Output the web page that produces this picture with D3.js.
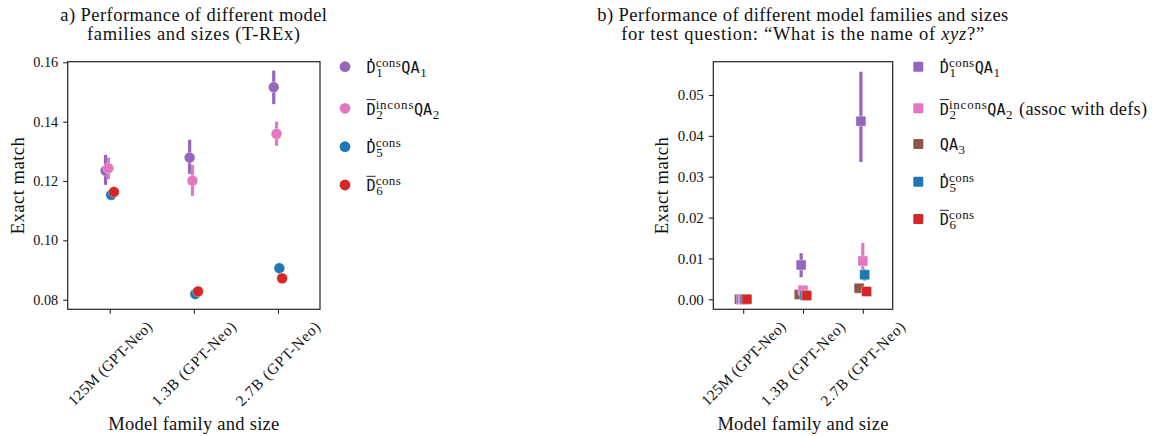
<!DOCTYPE html>
<html><head><meta charset="utf-8">
<script src="https://cdn.jsdelivr.net/npm/d3@7"></script>
<style>body{margin:0;background:#fff}svg{display:block}
.serif{font-family:"Liberation Serif","Times New Roman",serif}
.mono{font-family:"DejaVu Sans Mono",monospace}
</style>
</head><body>
<script>
// ---------------- DATA ----------------
const categories = ["125M (GPT-Neo)", "1.3B (GPT-Neo)", "2.7B (GPT-Neo)"];

// Panel a (T-REx)
const aTicks = [0.08, 0.10, 0.12, 0.14, 0.16];
const aD1 = [0.1235, 0.1279, 0.1516], aD1Lo = [0.1187, 0.1224, 0.1459], aD1Hi = [0.1288, 0.1339, 0.1572];
const aD2 = [0.1243, 0.1201, 0.1359], aD2Lo = [0.1206, 0.1150, 0.1319], aD2Hi = [0.1279, 0.1254, 0.1400];
const aD5 = [0.1153, 0.0819, 0.0906], aD5Lo = [0.1149, 0.0816, 0.0900], aD5Hi = [0.1157, 0.0822, 0.0913];
const aD6 = [0.1163, 0.0828, 0.0872], aD6Lo = [0.1160, 0.0825, 0.0868], aD6Hi = [0.1166, 0.0831, 0.0876];

// Panel b (test question "What is the name of xyz?")
const bTicks = [0.00, 0.01, 0.02, 0.03, 0.04, 0.05];
const bD1 = [0, 0.0084, 0.0436], bD1Lo = [0, 0.0054, 0.0336], bD1Hi = [0, 0.0113, 0.0557];
const bD2 = [0, 0.0022, 0.0094], bD2Lo = [0, 0.0015, 0.0052], bD2Hi = [0, 0.0030, 0.0138];
const bQA3 = [0, 0.0012, 0.0027], bQA3Lo = [0, 0.0008, 0.0022], bQA3Hi = [0, 0.0016, 0.0032];
const bD5 = [0, 0.0010, 0.0060], bD5Lo = [0, 0.0006, 0.0046], bD5Hi = [0, 0.0014, 0.0073];
const bD6 = [0, 0.0009, 0.0019], bD6Lo = [0, 0.0006, 0.0014], bD6Hi = [0, 0.0012, 0.0024];

// legend label pieces
const labD1 = [{mono:"D", accent:"dot"}, {sup:"cons", sub:"1"}, {mono:"QA"}, {sub:"1"}];
const labD2 = [{mono:"D", accent:"bar"}, {sup:"incons", sub:"2"}, {mono:"QA"}, {sub:"2"}];
const labD2b = [{mono:"D", accent:"bar"}, {sup:"incons", sub:"2"}, {mono:"QA"}, {sub:"2"}, {serif:"(assoc with defs)"}];
const labQA3 = [{mono:"QA"}, {sub:"3"}];
const labD5 = [{mono:"D", accent:"dot"}, {sup:"cons", sub:"5"}];
const labD6 = [{mono:"D", accent:"bar"}, {sup:"cons", sub:"6"}];

const C = {purple:"#9467bd", pink:"#e377c2", brown:"#8c564b", blue:"#1f77b4", red:"#d62728"};

// ---------------- RENDER ----------------
const INK = "#111";
const svg = d3.select("body").append("svg").attr("width", 1154).attr("height", 436);

const meas = svg.append("text").attr("x", -1000).attr("y", -1000);
function measure(str, cls, size) {
  meas.attr("class", cls).attr("font-size", size).attr("letter-spacing", 0).text(str);
  return meas.node().getComputedTextLength();
}
// fit text to a target width: grow font a little (max 6%), then open letter-spacing
function fit(sel, target, size) {
  const n = sel.node();
  sel.attr("font-size", size).attr("letter-spacing", 0);
  const w = n.getComputedTextLength();
  const k = n.textContent.length;
  const fs = size * Math.min(1.06, target / w);
  sel.attr("font-size", fs);
  const w2 = n.getComputedTextLength();
  if (k > 1 && w2 < target) sel.attr("letter-spacing", (target - w2) / (k - 1));
}

function drawPanel(cfg) {
  const g = svg.append("g");
  const x = d3.scalePoint().domain(categories).range([cfg.left, cfg.right]).padding(0.5);
  const step = x.step();
  const y = d3.scaleLinear().domain(cfg.yDomain).range([cfg.bottom, cfg.top]);

  const yAx = g.append("g").attr("transform", `translate(${cfg.left},0)`)
    .call(d3.axisLeft(y).tickValues(cfg.yTicks).tickFormat(d3.format(".2f")).tickSize(4.5).tickPadding(5));
  const xAx = g.append("g").attr("transform", `translate(0,${cfg.bottom})`)
    .call(d3.axisBottom(x).tickSize(4.5).tickFormat(""));
  [yAx, xAx].forEach(a => { a.attr("font-family", null).attr("font-size", null); a.select(".domain").remove(); a.selectAll("line").attr("stroke", "#222").attr("stroke-width", 1.1); });
  yAx.selectAll("text").attr("class", "serif").attr("fill", INK)
    .each(function(){ fit(d3.select(this), cfg.yTickW, 14.5); });

  categories.forEach(c => {
    const t = g.append("text").text(c).attr("class", "serif").attr("fill", INK)
      .attr("text-anchor", "middle").attr("dominant-baseline", "central");
    fit(t, 112, 14.5);
    const L = 112, h = 15;
    const cy = cfg.bottom + 9 + (L + h) * Math.SQRT1_2 / 2;
    t.attr("transform", `translate(${x(c)},${cy}) rotate(-45)`);
  });

  g.append("rect").attr("x", cfg.left).attr("y", cfg.top).attr("width", cfg.right - cfg.left)
    .attr("height", cfg.bottom - cfg.top).attr("fill", "none").attr("stroke", "#222").attr("stroke-width", 1.2);

  const n = cfg.nDodge, dodge = 0.025 * n;
  cfg.series.forEach(s => {
    const off = (n > 1 ? (s.dodge * dodge / (n - 1)) : 0) - dodge / 2;
    const sg = g.append("g");
    categories.forEach((c, i) => {
      const cx = x(c) + off * step;
      if (s.hi[i] > s.lo[i]) {
        sg.append("line").attr("x1", cx).attr("x2", cx).attr("y1", y(s.lo[i])).attr("y2", y(s.hi[i]))
          .attr("stroke", s.color).attr("stroke-width", 3.2);
      }
      if (cfg.shape === "circle") {
        sg.append("circle").attr("cx", cx).attr("cy", y(s.v[i])).attr("r", 5.4)
          .attr("fill", s.color).attr("stroke", "#fff").attr("stroke-width", 0.5).attr("stroke-opacity", 0.7);
      } else {
        sg.append("rect").attr("x", cx - 5).attr("y", y(s.v[i]) - 5).attr("width", 10).attr("height", 10)
          .attr("rx", 1.2).attr("fill", s.color).attr("stroke", "#fff").attr("stroke-width", 0.5).attr("stroke-opacity", 0.7);
      }
    });
  });

  const yl = g.append("text").text("Exact match").attr("class", "serif").attr("fill", INK)
    .attr("text-anchor", "middle").attr("transform", `translate(${cfg.yLabelX},${(cfg.top + cfg.bottom) / 2}) rotate(-90)`)
    .attr("dominant-baseline", "central");
  fit(yl, 97, 17.5);
  const xl = g.append("text").text("Model family and size").attr("class", "serif").attr("fill", INK)
    .attr("text-anchor", "middle").attr("x", (cfg.left + cfg.right) / 2).attr("y", 430);
  fit(xl, 171, 17.5);

  const tc = (cfg.left + cfg.right) / 2;
  cfg.title.forEach((ln, k) => {
    const t = g.append("text").attr("class", "serif").attr("fill", INK)
      .attr("text-anchor", "middle").attr("x", tc).attr("y", 20.5 + k * 19.5);
    ln.parts.forEach(p => t.append("tspan").text(p.t).attr("font-style", p.it ? "italic" : null));
    fit(t, ln.w, 17.5);
  });

  cfg.series.slice().sort((a, b) => a.legendOrder - b.legendOrder).forEach((s, k) => {
    const my = cfg.legendY[k];
    if (cfg.shape === "circle") g.append("circle").attr("cx", cfg.legendX).attr("cy", my).attr("r", 5.4).attr("fill", s.color);
    else g.append("rect").attr("x", cfg.legendX - 5).attr("y", my - 5).attr("width", 10).attr("height", 10).attr("rx", 1.2).attr("fill", s.color);
    const base = my + 6.3;
    let cx = cfg.legendX + 21.5;
    const txt = g.append("text").attr("fill", INK).attr("x", cx).attr("y", base);
    s.label.forEach(p => {
      if (p.mono) {
        const w = measure(p.mono, "mono", 15.2);
        txt.append("tspan").attr("class", "mono").attr("font-size", 15.2).attr("x", cx).attr("y", base).text(p.mono);
        if (p.accent === "dot") g.append("circle").attr("cx", cx + w / 2).attr("cy", base - 13.3).attr("r", 1.15).attr("fill", INK);
        if (p.accent === "bar") g.append("line").attr("x1", cx).attr("x2", cx + w).attr("y1", base - 15).attr("y2", base - 15)
          .attr("stroke", INK).attr("stroke-width", 0.9);
        cx += w;
      } else if (p.serif) {
        cx += 5.5;
        const fs = 17.5 * 1.05;
        const w0 = measure(p.serif, "serif", fs);
        const ls = (128 - w0) / (p.serif.length - 1);
        txt.append("tspan").attr("class", "serif").attr("font-size", fs).attr("letter-spacing", ls)
          .attr("x", cx).attr("y", base).text(p.serif);
        cx += 128;
      } else {
        let w = 0;
        if (p.sup) {
          const w0 = measure(p.sup, "serif", 13);
          const target = p.sup.length * 6.3;
          const ls = p.sup.length > 1 ? (target - w0) / (p.sup.length - 1) : 0;
          txt.append("tspan").attr("class", "serif").attr("font-size", 13).attr("letter-spacing", ls)
            .attr("x", cx).attr("y", base - 6).text(p.sup);
          w = Math.max(w, target);
        }
        if (p.sub) {
          const ws = measure(p.sub, "serif", 13);
          txt.append("tspan").attr("class", "serif").attr("font-size", 13)
            .attr("x", cx + 0.5).attr("y", base + 4).text(p.sub);
          w = Math.max(w, ws + 1);
        }
        cx += w + 0.5;
      }
    });
  });
}

drawPanel({
  left: 67.7, right: 320, top: 61.7, bottom: 309.3,
  yDomain: [0.07676, 0.1602], yTicks: aTicks, yTickW: 25, yLabelX: 17.5,
  shape: "circle", nDodge: 4,
  series: [
    {v: aD1, lo: aD1Lo, hi: aD1Hi, color: C.purple, dodge: 0, legendOrder: 0, label: labD1},
    {v: aD2, lo: aD2Lo, hi: aD2Hi, color: C.pink, dodge: 1, legendOrder: 1, label: labD2},
    {v: aD5, lo: aD5Lo, hi: aD5Hi, color: C.blue, dodge: 2, legendOrder: 2, label: labD5},
    {v: aD6, lo: aD6Lo, hi: aD6Hi, color: C.red, dodge: 3, legendOrder: 3, label: labD6}
  ],
  legendX: 345, legendY: [66.7, 108.3, 146.7, 185],
  title: [
    {parts: [{t: "a) Performance of different model"}], w: 266.7},
    {parts: [{t: "families and sizes (T-REx)"}], w: 213}
  ]
});

drawPanel({
  left: 713.3, right: 892.7, top: 61.7, bottom: 309.3,
  yDomain: [-0.00245, 0.05815], yTicks: bTicks, yTickW: 26, yLabelX: 661.7,
  shape: "square", nDodge: 5,
  series: [
    {v: bQA3, lo: bQA3Lo, hi: bQA3Hi, color: C.brown, dodge: 0, legendOrder: 2, label: labQA3},
    {v: bD1, lo: bD1Lo, hi: bD1Hi, color: C.purple, dodge: 1, legendOrder: 0, label: labD1},
    {v: bD2, lo: bD2Lo, hi: bD2Hi, color: C.pink, dodge: 2, legendOrder: 1, label: labD2b},
    {v: bD5, lo: bD5Lo, hi: bD5Hi, color: C.blue, dodge: 3, legendOrder: 3, label: labD5},
    {v: bD6, lo: bD6Lo, hi: bD6Hi, color: C.red, dodge: 4, legendOrder: 4, label: labD6}
  ],
  legendX: 918.3, legendY: [66.7, 108.3, 144, 181.7, 219],
  title: [
    {parts: [{t: "b) Performance of different model families and sizes"}], w: 411},
    {parts: [{t: "for test question: \u201cWhat is the name of "}, {t: "xyz", it: true}, {t: "?\u201d"}], w: 363}
  ]
});
meas.remove();
</script>
</body></html>
